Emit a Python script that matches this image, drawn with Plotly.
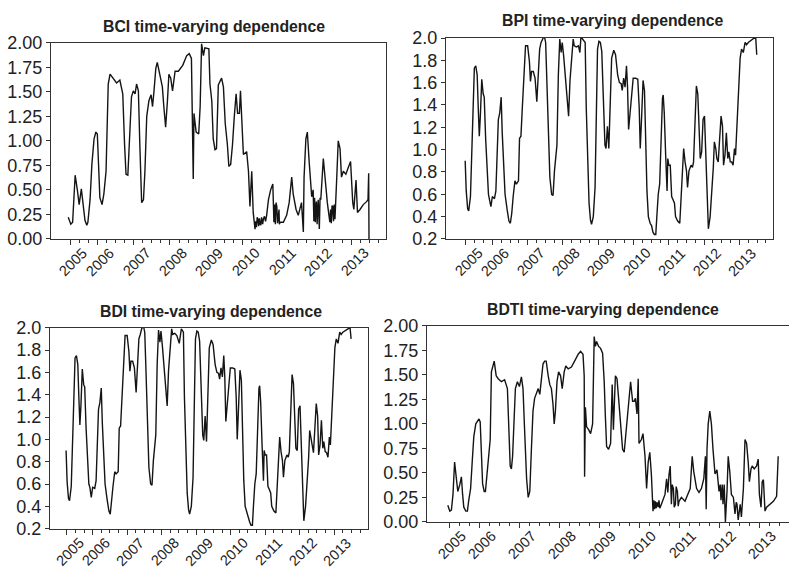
import plotly.graph_objects as go

# ---------------- data (decimal year, dependence value) ----------------
bci_year = [2005.20, 2005.27, 2005.32, 2005.39, 2005.45, 2005.50, 2005.56, 2005.60, 2005.66, 2005.71,
            2005.74, 2005.80, 2005.85, 2005.91, 2005.96, 2006.00, 2006.04, 2006.07, 2006.13, 2006.18,
            2006.24, 2006.30, 2006.35, 2006.44, 2006.53, 2006.62, 2006.70, 2006.75, 2006.79, 2006.84,
            2006.88, 2006.94, 2006.99, 2007.04, 2007.08, 2007.13, 2007.17, 2007.22, 2007.27, 2007.31,
            2007.36, 2007.42, 2007.48, 2007.52, 2007.56, 2007.61, 2007.65, 2007.72, 2007.79, 2007.83,
            2007.88, 2007.93, 2007.97, 2008.02, 2008.07, 2008.14, 2008.23, 2008.35, 2008.46, 2008.53,
            2008.59, 2008.61, 2008.64, 2008.66, 2008.72, 2008.79, 2008.83, 2008.87, 2008.92, 2008.96,
            2009.03, 2009.07, 2009.10, 2009.15, 2009.19, 2009.24, 2009.28, 2009.33, 2009.38, 2009.42,
            2009.47, 2009.52, 2009.58, 2009.62, 2009.67, 2009.72, 2009.77, 2009.82, 2009.86, 2009.91,
            2009.94, 2009.98, 2010.02, 2010.11, 2010.16, 2010.20, 2010.25, 2010.29, 2010.34, 2010.36,
            2010.38, 2010.40, 2010.42, 2010.44, 2010.46, 2010.48, 2010.50, 2010.52, 2010.55, 2010.57,
            2010.60, 2010.63, 2010.66, 2010.71, 2010.77, 2010.83, 2010.86, 2010.88, 2010.90, 2010.92,
            2010.94, 2010.96, 2010.98, 2011.00, 2011.01, 2011.03, 2011.12, 2011.21, 2011.28, 2011.35,
            2011.39, 2011.47, 2011.53, 2011.62, 2011.67, 2011.69, 2011.74, 2011.78, 2011.83, 2011.90,
            2011.94, 2011.96, 2011.98, 2012.00, 2012.01, 2012.03, 2012.05, 2012.06, 2012.08, 2012.10,
            2012.11, 2012.13, 2012.15, 2012.22, 2012.27, 2012.33, 2012.40, 2012.42, 2012.44, 2012.46,
            2012.48, 2012.50, 2012.52, 2012.54, 2012.59, 2012.63, 2012.68, 2012.72, 2012.77, 2012.84,
            2012.91, 2012.97, 2013.03, 2013.06, 2013.12, 2013.16, 2013.23, 2013.32, 2013.41, 2013.45,
            2013.468, 2013.477]
bci_value = [0.22, 0.15, 0.17, 0.65, 0.50, 0.35, 0.51, 0.37, 0.19, 0.14,
             0.17, 0.40, 0.76, 1.02, 1.09, 1.07, 0.73, 0.42, 0.35, 0.46,
             0.69, 1.58, 1.68, 1.63, 1.59, 1.62, 1.48, 0.96, 0.66, 0.65,
             0.96, 1.45, 1.51, 1.48, 1.58, 1.51, 0.96, 0.37, 0.40, 0.69,
             1.25, 1.41, 1.47, 1.35, 1.51, 1.74, 1.80, 1.69, 1.55, 1.35,
             1.14, 1.41, 1.68, 1.64, 1.51, 1.71, 1.71, 1.77, 1.87, 1.89,
             1.84, 1.35, 0.61, 1.28, 1.09, 1.07, 1.35, 1.99, 1.87, 1.95,
             1.94, 1.94, 1.58, 1.41, 1.02, 0.91, 0.92, 1.57, 1.61, 1.64,
             1.55, 1.18, 0.96, 0.74, 0.76, 0.96, 1.25, 1.48, 1.28, 1.28,
             1.51, 1.25, 0.86, 0.89, 0.69, 0.33, 0.69, 0.27, 0.10, 0.18,
             0.12, 0.22, 0.20, 0.13, 0.21, 0.15, 0.14, 0.22, 0.15, 0.20,
             0.23, 0.18, 0.24, 0.40, 0.50, 0.56, 0.17, 0.35, 0.15, 0.37,
             0.33, 0.16, 0.24, 0.30, 0.15, 0.17, 0.17, 0.24, 0.37, 0.63,
             0.46, 0.30, 0.24, 0.37, 0.07, 0.63, 1.02, 1.09, 0.79, 0.43,
             0.50, 0.18, 0.42, 0.17, 0.30, 0.38, 0.15, 0.27, 0.40, 0.12,
             0.10, 0.42, 0.40, 0.82, 0.60, 0.37, 0.17, 0.30, 0.16, 0.34,
             0.33, 0.18, 0.35, 0.20, 0.63, 1.00, 0.92, 0.63, 0.69, 0.66,
             0.73, 0.79, 0.37, 0.30, 0.60, 0.27, 0.30, 0.35, 0.38, 0.40,
             0.67, 0.00]

bpi_year = [2005.23, 2005.26, 2005.30, 2005.33, 2005.38, 2005.41, 2005.46, 2005.49, 2005.53, 2005.57,
            2005.60, 2005.63, 2005.66, 2005.70, 2005.74, 2005.77, 2005.81, 2005.85, 2005.89, 2005.92,
            2005.96, 2006.00, 2006.06, 2006.10, 2006.13, 2006.17, 2006.21, 2006.25, 2006.28, 2006.32,
            2006.36, 2006.42, 2006.47, 2006.51, 2006.55, 2006.59, 2006.64, 2006.68, 2006.74, 2006.77,
            2006.81, 2006.85, 2006.90, 2006.94, 2007.00, 2007.05, 2007.08, 2007.11, 2007.16, 2007.21,
            2007.26, 2007.30, 2007.34, 2007.38, 2007.42, 2007.47, 2007.51, 2007.54, 2007.59, 2007.63,
            2007.68, 2007.72, 2007.76, 2007.79, 2007.83, 2007.87, 2007.91, 2007.95, 2007.98, 2008.02,
            2008.08, 2008.13, 2008.16, 2008.20, 2008.25, 2008.29, 2008.32, 2008.38, 2008.44, 2008.48,
            2008.51, 2008.57, 2008.63, 2008.66, 2008.70, 2008.74, 2008.78, 2008.81, 2008.86, 2008.91,
            2008.95, 2008.98, 2009.02, 2009.06, 2009.10, 2009.14, 2009.19, 2009.22, 2009.26, 2009.30,
            2009.33, 2009.38, 2009.44, 2009.49, 2009.55, 2009.60, 2009.65, 2009.68, 2009.72, 2009.76,
            2009.80, 2009.83, 2009.86, 2009.91, 2009.95, 2009.99, 2010.06, 2010.12, 2010.16, 2010.19,
            2010.23, 2010.27, 2010.31, 2010.34, 2010.38, 2010.42, 2010.47, 2010.51, 2010.55, 2010.59,
            2010.63, 2010.66, 2010.70, 2010.74, 2010.78, 2010.82, 2010.84, 2010.87, 2010.91, 2010.95,
            2010.97, 2011.00, 2011.04, 2011.08, 2011.12, 2011.16, 2011.19, 2011.25, 2011.31, 2011.34,
            2011.38, 2011.42, 2011.46, 2011.50, 2011.53, 2011.57, 2011.63, 2011.67, 2011.70, 2011.74,
            2011.78, 2011.82, 2011.85, 2011.89, 2011.93, 2011.97, 2012.01, 2012.04, 2012.08, 2012.12,
            2012.17, 2012.21, 2012.26, 2012.29, 2012.33, 2012.36, 2012.40, 2012.44, 2012.48, 2012.52,
            2012.55, 2012.59, 2012.63, 2012.67, 2012.70, 2012.74, 2012.78, 2012.82, 2012.86, 2012.89,
            2012.93, 2012.97, 2013.02, 2013.06, 2013.11, 2013.16, 2013.20, 2013.25, 2013.33, 2013.40,
            2013.46, 2013.49]
bpi_value = [0.90, 0.63, 0.47, 0.45, 0.58, 0.95, 1.53, 1.73, 1.75, 1.67,
             1.38, 1.12, 1.30, 1.63, 1.50, 1.47, 1.10, 0.78, 0.60, 0.55,
             0.49, 0.58, 0.56, 0.63, 0.89, 1.27, 1.33, 1.47, 1.15, 0.81,
             0.60, 0.46, 0.36, 0.34, 0.43, 0.58, 0.72, 0.69, 0.72, 1.10,
             1.12, 1.38, 1.70, 1.93, 1.93, 1.79, 1.61, 1.70, 1.70, 1.64,
             1.43, 1.67, 1.90, 1.96, 1.99, 2.02, 1.96, 1.67, 1.10, 0.75,
             0.60, 0.59, 0.81, 0.92, 1.04, 1.67, 1.99, 1.87, 1.96, 1.84,
             1.58, 1.36, 1.30, 1.62, 1.82, 1.99, 1.93, 1.92, 1.93, 1.87,
             2.01, 1.98, 1.96, 1.38, 0.81, 0.52, 0.37, 0.33, 0.40, 0.66,
             1.38, 1.90, 1.97, 1.96, 1.88, 1.50, 1.04, 1.01, 1.21, 1.01,
             1.27, 1.82, 1.89, 1.85, 1.67, 1.60, 1.59, 1.53, 1.64, 1.56,
             1.75, 1.56, 1.18, 1.38, 1.53, 1.64, 1.64, 1.63, 1.38, 1.01,
             1.30, 1.62, 1.53, 1.10, 0.63, 0.40, 0.34, 0.32, 0.26, 0.24,
             0.24, 0.40, 0.60, 0.69, 1.10, 1.46, 1.49, 1.33, 0.95, 0.63,
             0.92, 0.86, 0.86, 0.58, 0.55, 0.52, 0.40, 0.36, 0.34, 0.52,
             0.81, 1.01, 0.89, 0.81, 0.66, 0.81, 0.86, 0.84, 0.89, 1.24,
             1.57, 1.50, 1.24, 0.92, 0.98, 1.27, 1.30, 1.04, 0.52, 0.29,
             0.40, 0.58, 0.84, 1.07, 1.01, 0.92, 0.89, 1.10, 1.30, 1.21,
             0.86, 0.95, 1.15, 0.92, 0.98, 0.89, 0.89, 0.86, 1.01, 0.95,
             1.24, 1.59, 1.82, 1.90, 1.87, 1.96, 1.94, 1.96, 1.98, 1.99,
             2.01, 1.85]

bdi_year = list(bpi_year)
bdi_value = [0.90, 0.62, 0.47, 0.45, 0.58, 0.95, 1.53, 1.73, 1.75, 1.67,
             1.38, 1.13, 1.30, 1.63, 1.49, 1.47, 1.10, 0.78, 0.60, 0.57,
             0.48, 0.57, 0.56, 0.63, 0.89, 1.27, 1.33, 1.46, 1.15, 0.81,
             0.60, 0.46, 0.36, 0.33, 0.43, 0.58, 0.71, 0.69, 0.71, 1.10,
             1.12, 1.38, 1.70, 1.93, 1.93, 1.79, 1.61, 1.70, 1.70, 1.64,
             1.42, 1.67, 1.90, 1.94, 1.99, 2.02, 1.96, 1.67, 1.10, 0.75,
             0.60, 0.59, 0.81, 0.92, 1.04, 1.67, 1.98, 1.87, 1.97, 1.84,
             1.58, 1.36, 1.30, 1.62, 1.82, 1.99, 1.94, 1.95, 1.93, 1.88,
             1.86, 1.99, 1.96, 1.38, 0.81, 0.52, 0.37, 0.33, 0.40, 0.66,
             1.38, 1.90, 1.97, 1.96, 1.88, 1.50, 1.04, 0.99, 1.21, 0.98,
             1.27, 1.82, 1.89, 1.85, 1.67, 1.60, 1.59, 1.54, 1.64, 1.56,
             1.75, 1.56, 1.16, 1.38, 1.53, 1.64, 1.64, 1.63, 1.38, 1.00,
             1.30, 1.62, 1.53, 1.10, 0.63, 0.40, 0.34, 0.31, 0.26, 0.23,
             0.23, 0.40, 0.60, 0.69, 1.10, 1.46, 1.48, 1.33, 0.95, 0.63,
             0.90, 0.86, 0.86, 0.58, 0.55, 0.52, 0.40, 0.36, 0.34, 0.52,
             0.81, 1.02, 0.89, 0.81, 0.66, 0.81, 0.86, 0.84, 0.89, 1.24,
             1.58, 1.50, 1.24, 0.92, 0.90, 1.27, 1.30, 1.04, 0.52, 0.27,
             0.40, 0.58, 0.84, 1.08, 1.01, 0.92, 0.88, 1.10, 1.32, 1.21,
             0.86, 0.95, 1.17, 0.92, 0.98, 0.89, 0.88, 0.84, 1.02, 0.95,
             1.24, 1.59, 1.82, 1.90, 1.86, 1.96, 1.94, 1.96, 1.98, 1.99,
             2.00, 1.90]

bdti_year = [2005.22, 2005.27, 2005.31, 2005.35, 2005.39, 2005.43, 2005.47, 2005.52, 2005.56, 2005.59,
             2005.62, 2005.67, 2005.71, 2005.74, 2005.79, 2005.83, 2005.87, 2005.92, 2005.96, 2006.00,
             2006.03, 2006.06, 2006.09, 2006.13, 2006.16, 2006.19, 2006.24, 2006.28, 2006.31, 2006.35,
             2006.38, 2006.43, 2006.48, 2006.56, 2006.64, 2006.71, 2006.74, 2006.78, 2006.81, 2006.84,
             2006.88, 2006.91, 2006.96, 2007.01, 2007.06, 2007.10, 2007.14, 2007.19, 2007.23, 2007.27,
             2007.31, 2007.35, 2007.39, 2007.43, 2007.48, 2007.52, 2007.56, 2007.60, 2007.64, 2007.68,
             2007.73, 2007.77, 2007.81, 2007.85, 2007.88, 2007.91, 2007.95, 2007.99, 2008.04, 2008.08,
             2008.13, 2008.17, 2008.23, 2008.31, 2008.39, 2008.48, 2008.54, 2008.60, 2008.63, 2008.64,
             2008.66, 2008.69, 2008.74, 2008.79, 2008.84, 2008.88, 2008.91, 2008.94, 2008.99, 2009.04,
             2009.09, 2009.13, 2009.16, 2009.19, 2009.24, 2009.29, 2009.33, 2009.36, 2009.41, 2009.45,
             2009.49, 2009.54, 2009.59, 2009.63, 2009.67, 2009.71, 2009.75, 2009.79, 2009.84, 2009.88,
             2009.91, 2009.95, 2009.98, 2010.00, 2010.06, 2010.10, 2010.15, 2010.19, 2010.23, 2010.27,
             2010.31, 2010.35, 2010.37, 2010.39, 2010.41, 2010.43, 2010.45, 2010.48, 2010.50, 2010.52,
             2010.56, 2010.60, 2010.65, 2010.69, 2010.72, 2010.75, 2010.78, 2010.81, 2010.83, 2010.86,
             2010.88, 2010.91, 2010.93, 2010.96, 2010.98, 2011.00, 2011.06, 2011.15, 2011.23, 2011.28,
             2011.33, 2011.37, 2011.44, 2011.50, 2011.56, 2011.62, 2011.66, 2011.68, 2011.70, 2011.73,
             2011.77, 2011.81, 2011.85, 2011.90, 2011.95, 2011.97, 2012.00, 2012.03, 2012.05, 2012.08,
             2012.10, 2012.13, 2012.16, 2012.20, 2012.23, 2012.27, 2012.31, 2012.36, 2012.40, 2012.43,
             2012.45, 2012.48, 2012.53, 2012.56, 2012.61, 2012.65, 2012.69, 2012.73, 2012.76, 2012.80,
             2012.83, 2012.88, 2012.94, 2012.98, 2013.01, 2013.05, 2013.08, 2013.11, 2013.15, 2013.19,
             2013.27, 2013.36, 2013.44, 2013.48]
bdti_value = [0.17, 0.11, 0.12, 0.28, 0.61, 0.44, 0.31, 0.38, 0.46, 0.28,
              0.15, 0.11, 0.11, 0.21, 0.34, 0.61, 0.87, 1.00, 1.03, 1.05,
              1.02, 0.71, 0.39, 0.31, 0.31, 0.44, 0.67, 0.84, 1.53, 1.61,
              1.64, 1.49, 1.46, 1.43, 1.45, 1.36, 1.00, 0.57, 0.54, 0.67,
              1.07, 1.36, 1.43, 1.38, 1.48, 1.36, 0.94, 0.44, 0.25, 0.31,
              0.74, 1.13, 1.26, 1.30, 1.36, 1.30, 1.43, 1.61, 1.64, 1.64,
              1.49, 1.40, 1.36, 1.20, 1.00, 1.13, 1.43, 1.53, 1.49, 1.36,
              1.53, 1.59, 1.56, 1.58, 1.64, 1.71, 1.74, 1.71, 1.49, 0.46,
              1.17, 0.97, 0.94, 0.90, 1.00, 1.89, 1.79, 1.84, 1.79, 1.77,
              1.72, 1.43, 1.07, 0.77, 0.74, 0.80, 1.40, 0.94, 1.49, 1.46,
              1.26, 0.94, 0.74, 0.71, 0.90, 1.03, 1.23, 1.43, 1.23, 1.23,
              1.26, 1.10, 1.46, 0.80, 0.84, 0.90, 0.67, 0.34, 0.61, 0.71,
              0.48, 0.11, 0.22, 0.13, 0.21, 0.14, 0.20, 0.15, 0.22, 0.14,
              0.18, 0.22, 0.28, 0.44, 0.30, 0.48, 0.57, 0.18, 0.38, 0.34,
              0.15, 0.18, 0.36, 0.31, 0.16, 0.21, 0.25, 0.21, 0.28, 0.34,
              0.67, 0.51, 0.34, 0.30, 0.34, 0.44, 0.67, 0.13, 0.74, 1.00,
              1.13, 1.00, 0.74, 0.49, 0.53, 0.40, 0.31, 0.38, 0.22, 0.38,
              0.18, 0.38, 0.00, 0.31, 0.67, 0.51, 0.28, 0.25, 0.08, 0.20,
              0.18, 0.02, 0.18, 0.05, 0.34, 0.84, 0.80, 0.61, 0.41, 0.54,
              0.57, 0.54, 0.57, 0.64, 0.28, 0.15, 0.41, 0.43, 0.11, 0.15,
              0.18, 0.21, 0.26, 0.67]

year_ticks = [2005.25, 2006, 2007, 2008, 2009, 2010, 2011, 2012, 2013]
year_labels = ["2005", "2006", "2007", "2008", "2009", "2010", "2011", "2012", "2013"]

# ---------------- layout ----------------
W, H = 789, 585
FONT = "Liberation Sans, Arial, sans-serif"
TXT = "#222222"

panels = [
    dict(title="BCI time-varying dependence", x=bci_year, y=bci_value,
         px=(51, 386), py=(34, 237), xr=(2004.725, 2013.945), yr=(0, 2), dtick=0.25, fmt=".2f",
         t=(214, 17), mirror_y=True),
    dict(title="BPI time-varying dependence", x=bpi_year, y=bpi_value,
         px=(446, 773), py=(29, 237), xr=(2004.687, 2013.951), yr=(0.2, 2.0), dtick=0.2, fmt=".1f",
         t=(612, 11), mirror_y=True),
    dict(title="BDI time-varying dependence", x=bdi_year, y=bdi_value,
         px=(50, 368), py=(329, 537), xr=(2004.764, 2013.98), yr=(0.2, 2.0), dtick=0.2, fmt=".1f",
         t=(211, 312), mirror_y=True),
    dict(title="BDTI time-varying dependence", x=bdti_year, y=bdti_value,
         px=(427, 789), py=(327, 530), xr=(2004.70, 2013.75), yr=(0, 2), dtick=0.25, fmt=".2f",
         t=(603, 310), mirror_y=False),
]

minor_vals = [y + q for y in range(2005, 2014) for q in (0.25, 0.5, 0.75)]
minor_vals = [v for v in minor_vals if v not in year_ticks]

fig = go.Figure()
annotations = []
for i, p in enumerate(panels, start=1):
    xa = "x" if i == 1 else f"x{i}"
    ya = "y" if i == 1 else f"y{i}"
    fig.add_trace(go.Scatter(x=p["x"], y=p["y"], mode="lines", xaxis=xa, yaxis=ya,
                             line=dict(color="#141414", width=1.4), showlegend=False,
                             hoverinfo="skip"))
    xkey = "xaxis" if i == 1 else f"xaxis{i}"
    ykey = "yaxis" if i == 1 else f"yaxis{i}"
    fig.layout[xkey] = dict(
        domain=[p["px"][0] / W, min(p["px"][1] / W, 1.0)], anchor=ya,
        range=list(p["xr"]), showgrid=False, zeroline=False,
        showline=True, linecolor="#333333", linewidth=1, mirror=True,
        tickmode="array", tickvals=year_ticks, ticktext=year_labels, showticklabels=False,
        ticks="outside", ticklen=5, tickcolor="#333333",
        minor=dict(tickmode="array", tickvals=minor_vals, ticks="outside", ticklen=3,
                   tickcolor="#333333", showgrid=False),
    )
    fig.layout[ykey] = dict(
        domain=[1 - p["py"][1] / H, 1 - p["py"][0] / H], anchor=xa,
        range=list(p["yr"]), showgrid=False, zeroline=False,
        showline=True, linecolor="#333333", linewidth=1, mirror=p["mirror_y"],
        tickmode="linear", tick0=p["yr"][0], dtick=p["dtick"], tickformat=p["fmt"],
        ticks="outside", ticklen=4, tickcolor="#333333",
        tickfont=dict(family=FONT, size=18, color=TXT),
    )
    annotations.append(dict(text=f"<b>{p['title']}</b>", x=p["t"][0] / W, y=1 - p["t"][1] / H,
                            xref="paper", yref="paper", xanchor="center", yanchor="middle",
                            showarrow=False, font=dict(family=FONT, size=15.8, color=TXT)))
    # rotated year labels, centred slightly right of each tick
    for tv, tt in zip(year_ticks, year_labels):
        if tv > p["xr"][1]:
            continue
        annotations.append(dict(text=tt, x=tv, y=0, xref=xa, yref=f"{ya} domain",
                                xanchor="center", yanchor="top", textangle=-45,
                                xshift=3, yshift=-5, showarrow=False, borderpad=0,
                                font=dict(family=FONT, size=14.5, color=TXT)))

fig.update_layout(width=W, height=H, margin=dict(l=0, r=0, t=0, b=0),
                  paper_bgcolor="white", plot_bgcolor="white", annotations=annotations)

fig.write_html("out.html")
